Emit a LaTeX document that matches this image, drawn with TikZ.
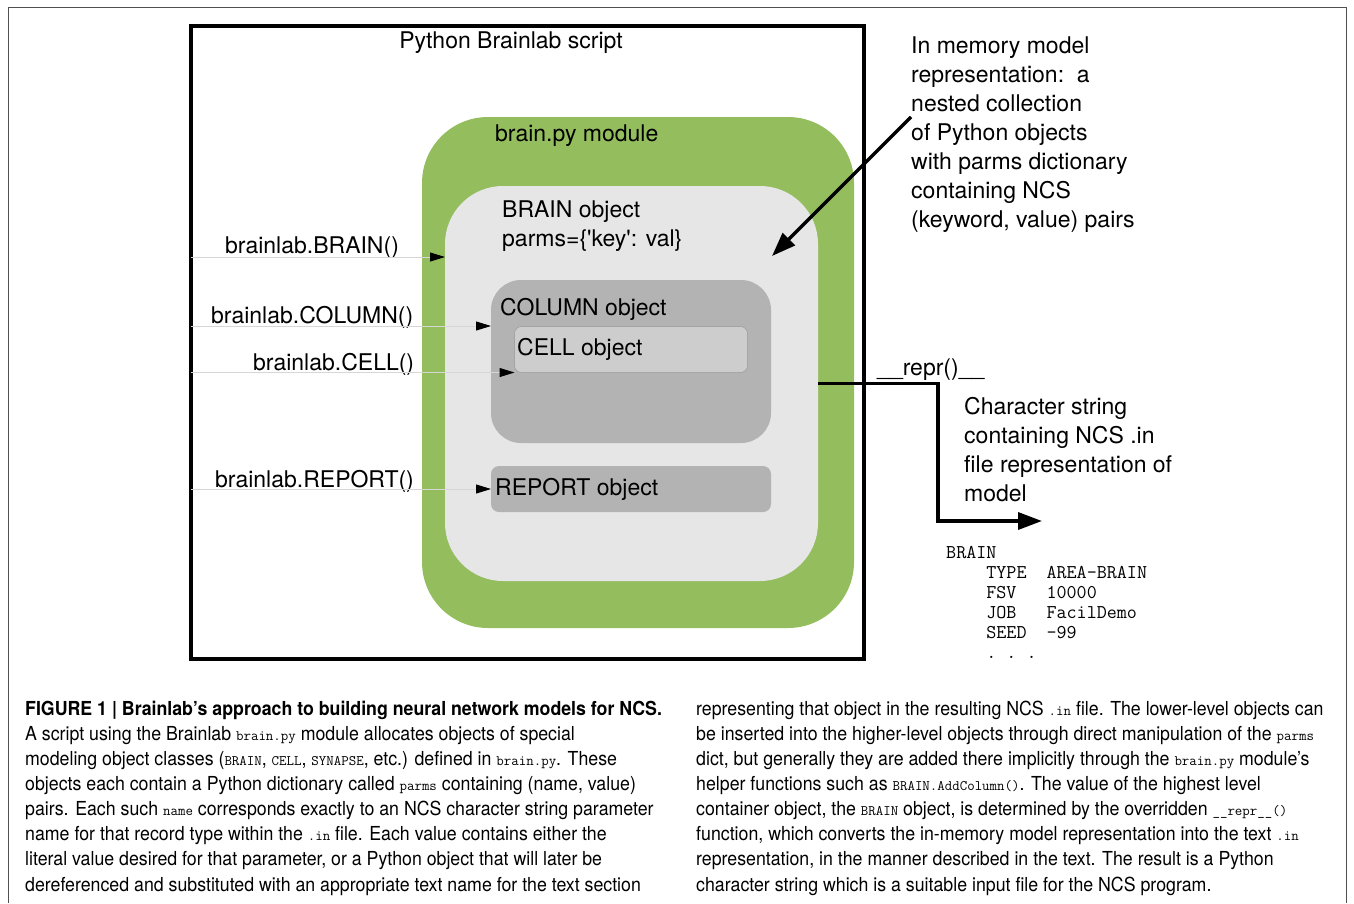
\documentclass[tikz,border=0pt]{standalone}
\usepackage{fontspec}
\setmainfont{TeX Gyre Heros}
\newfontfamily\capfont[FakeStretch=0.92]{TeX Gyre Heros}
\usetikzlibrary{arrows.meta}
\definecolor{modgreen}{RGB}{148,189,94}
\definecolor{objgray}{RGB}{230,230,230}
\definecolor{colgray}{RGB}{179,179,179}
\definecolor{cellgray}{RGB}{205,205,205}
\definecolor{callgray}{RGB}{214,214,214}
\definecolor{pagegray}{RGB}{80,80,80}
\newcommand{\capcode}[1]{{\ttfamily\fontsize{14.5}{25.1}\selectfont #1}}

\begin{document}
\begin{tikzpicture}[x=1pt,y=-1pt,
    box/.style={anchor=north west,inner sep=0pt,outer sep=0pt},
    lbl/.style={anchor=base west,inner sep=0pt,font=\fontsize{23}{29}\selectfont},
    note/.style={lbl,align=left},
    call/.style={callgray,line width=1pt,-{Triangle[black,length=15pt,width=9pt]}},
    bigarrow/.style={black,line width=3.5pt,-{Triangle[length=24pt,width=17pt]}},
    codetext/.style={anchor=base west,inner sep=0pt,align=left,font=\ttfamily\fontsize{19.5}{20}\selectfont},
    captext/.style={anchor=base west,inner sep=0pt,align=left,font=\capfont\fontsize{19.3}{25.1}\selectfont}]
        \useasboundingbox (0,0) rectangle (1354,903);
        \draw[pagegray,line width=1pt] (8,903) -- (8,7) -- (1346,7) -- (1346,903); %page frame

        % boxes
        \node[box,draw,line width=4pt,minimum width=673pt,minimum height=633pt] at (190.5,25.5) (script){};
        \node[box,fill=modgreen,rounded corners=66pt,minimum width=432pt,minimum height=511pt] at (422,117) (module){};
        \node[box,fill=objgray,rounded corners=58pt,minimum width=373pt,minimum height=395pt] at (445,186) (brain){};
        \node[box,fill=colgray,rounded corners=30pt,minimum width=280pt,minimum height=163pt] at (491,280) (column){};
        \node[box,fill=cellgray,draw=colgray!85!black,line width=0.5pt,rounded corners=7pt,minimum width=233pt,minimum height=46pt] at (514.5,326.5) (cell){};
        \node[box,fill=colgray,rounded corners=8pt,minimum width=280pt,minimum height=46pt] at (491,466) (report){};

        % box titles (multi-line nodes sit on their last baseline)
        \node[lbl,anchor=base] at (511,48) (scripttitle){Python Brainlab script};
        \node[lbl] at (495,141) (moduletitle){brain.py module};
        \node[note] at (502,246) (braintitle){BRAIN object\\parms=\{\textquotesingle key\textquotesingle: val\}};
        \node[lbl] at (500,315) (columntitle){COLUMN object};
        \node[lbl] at (517,355) (celltitle){CELL object};
        \node[lbl] at (495,495) (reporttitle){REPORT object};

        % calls
        \node[lbl] at (225,253) (callbrain){brainlab.BRAIN()};
        \node[lbl] at (211,323) (callcolumn){brainlab.COLUMN()};
        \node[lbl] at (253,370) (callcell){brainlab.CELL()};
        \node[lbl] at (215,487) (callreport){brainlab.REPORT()};
        \draw[call] (script.west |- 0,257) -- (brain.west |- 0,257); %brain
        \draw[call] (script.west |- 0,326) -- (column.west |- 0,326); %column
        \draw[call] (script.west |- cell.south west) -- (cell.south west); %cell
        \draw[call] (script.west |- report.west) -- (report.west); %report

        % in memory model
        \node[note] at (911,227) (memnote){In memory model\\representation:\ \ a\\nested collection\\of Python objects\\with parms dictionary\\containing NCS\\(keyword, value) pairs};
        \coordinate (memfoot) at (911,117);
        \coordinate (memtip) at (772,256);
        \draw[bigarrow] (memfoot) -- (memtip);

        % repr output
        \node[lbl] at (877,375) (reprlabel){\_\_repr()\_\_};
        \node[note] at (964,501) (strnote){Character string\\containing NCS .in\\file representation of\\model};
        \coordinate (strtip) at (1042,521);
        \draw[bigarrow] (brain.east) -- ++(120,0) |- (strtip); %brain-string
        \node[codetext] at (946,658) (nclines){BRAIN\\~~~~TYPE~~AREA-BRAIN\\~~~~FSV~~~10000\\~~~~JOB~~~FacilDemo\\~~~~SEED~~-99\\~~~~.~.~.};

        % caption
        \node[captext] at (25,891) (capleft){\textbf{FIGURE 1 | Brainlab’s approach to building neural network models for NCS.}\\
A script using the Brainlab \capcode{brain.py} module allocates objects of special\\
modeling object classes (\capcode{BRAIN}, \capcode{CELL}, \capcode{SYNAPSE}, etc.) defined in \capcode{brain.py}. These\\
objects each contain a Python dictionary called \capcode{parms} containing (name, value)\\
pairs. Each such \capcode{name} corresponds exactly to an NCS character string parameter\\
name for that record type within the \capcode{.in} file. Each value contains either the\\
literal value desired for that parameter, or a Python object that will later be\\
dereferenced and substituted with an appropriate text name for the text section};
        \node[captext] at (696,891) (capright){representing that object in the resulting NCS \capcode{.in} file. The lower-level objects can\\
be inserted into the higher-level objects through direct manipulation of the \capcode{parms}\\
dict, but generally they are added there implicitly through the \capcode{brain.py} module’s\\
helper functions such as \capcode{BRAIN.AddColumn()}. The value of the highest level\\
container object, the \capcode{BRAIN} object, is determined by the overridden \capcode{\_\_repr\_\_()}\\
function, which converts the in-memory model representation into the text \capcode{.in}\\
representation, in the manner described in the text. The result is a Python\\
character string which is a suitable input file for the NCS program.};
\end{tikzpicture}
\end{document}
